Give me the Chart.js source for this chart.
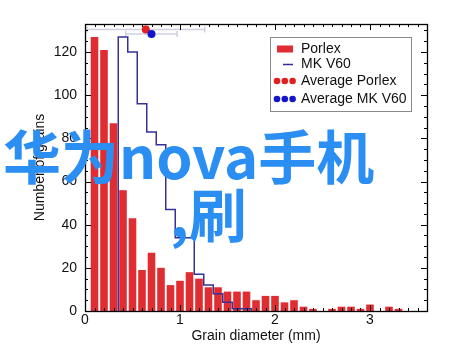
<!DOCTYPE html>
<html>
<head>
<meta charset="utf-8">
<script src="https://cdn.jsdelivr.net/npm/chart.js@4.4.0/dist/chart.umd.min.js"></script>
<style>
    html, body { margin: 0; padding: 0; background: #fff; }
    #wrap { position: relative; width: 460px; height: 354px; }
    .mark {
        position: absolute;
        font-family: "Noto Sans CJK SC", sans-serif;
        font-weight: 700;
        font-size: 58px;
        line-height: 58px;
        color: #2b8ef2;
        white-space: nowrap;
        pointer-events: none;
    }
</style>
</head>
<body>
<div id="wrap">
    <canvas id="grains-chart" width="460" height="354"></canvas>
    <div class="mark" style="left:3px; top:125px;">华为nova手机</div>
    <div class="mark" style="left:170px; top:183px;">,刷</div>
</div>
<script>
const binCenters = [0.1, 0.2, 0.3, 0.4, 0.5, 0.6, 0.7, 0.8, 0.9, 1.0,
    1.1, 1.2, 1.3, 1.4, 1.5, 1.6, 1.7, 1.8, 1.9, 2.0,
    2.1, 2.2, 2.3, 2.4, 2.5, 2.6, 2.7, 2.8, 2.9, 3.0,
    3.1, 3.2, 3.3, 3.4, 3.5];
const porlexCounts = [127, 121, 87, 56, 43, 19, 27, 20, 12, 14,
    18, 15, 11, 11, 9, 9, 9, 5, 7, 7,
    4, 5, 2, 1, 0, 1, 2, 2, 1, 3,
    0, 2, 1, 0, 0];
const v60Counts = [0, 0, 0, 127, 120, 96, 83, 77, 47, 34,
    34, 17, 12, 8, 4, 1, 1, 0, 0, 0,
    0, 0, 0, 0, 0, 0, 0, 0, 0, 0,
    0, 0, 0, 0, 0];

const averageLabels = ['Average Porlex', 'Average MK V60'];
const averageDiameters = [0.64, 0.70];
const averageHeights = [130.4, 128.4];
const averageSpreads = [0.62, 0.27];

const xTickValues = [0, 1, 2, 3];
const yTickValues = [0, 20, 40, 60, 80, 100, 120];
const xRange = [0, 3.6];
const yRange = [0, 133];

const porlexColor = '#e02d32';
const v60Color = '#35309a';
const dotColors = ['#e11f1f', '#1414c8'];
const textFont = '"Liberation Sans", Arial, sans-serif';

// edges of the bins, drawn as a step outline
function stepPoints(counts) {
    const half = (binCenters[1] - binCenters[0]) / 2;
    const first = counts.findIndex(c => c > 0);
    let last = counts.length - 1;
    while (last > 0 && counts[last] === 0) last--;
    const pts = [{ x: binCenters[first] - half, y: 0 }];
    for (let i = first; i <= last; i++) {
        pts.push({ x: binCenters[i] - half, y: counts[i] });
    }
    pts.push({ x: binCenters[last] + half, y: 0 });
    return pts;
}

// inward ticks on all four sides plus the frame
const frameTicks = {
    id: 'frameTicks',
    afterDatasetsDraw(chart) {
        const { ctx, chartArea: a, scales: { x, y } } = chart;
        ctx.save();
        ctx.strokeStyle = '#000';
        ctx.lineWidth = 1;
        ctx.beginPath();
        for (let i = 0; i <= Math.round(xRange[1] * 10); i++) {
            const px = Math.round(x.getPixelForValue(i / 10)) + 0.5;
            const len = i % 10 === 0 ? 6 : 3;
            ctx.moveTo(px, a.bottom); ctx.lineTo(px, a.bottom - len);
            ctx.moveTo(px, a.top); ctx.lineTo(px, a.top + len);
        }
        for (let v = 0; v <= yRange[1]; v += 5) {
            const py = Math.round(y.getPixelForValue(v)) + 0.5;
            const len = v % 20 === 0 ? 6 : 3;
            ctx.moveTo(a.left, py); ctx.lineTo(a.left + len, py);
            ctx.moveTo(a.right, py); ctx.lineTo(a.right - len, py);
        }
        ctx.stroke();
        ctx.lineWidth = 1.3;
        ctx.strokeRect(a.left + 0.5, a.top + 0.5, a.right - a.left, a.bottom - a.top);
        ctx.restore();
    }
};

// horizontal spread of each average, under the dots
const spreadBars = {
    id: 'spreadBars',
    beforeDatasetsDraw(chart) {
        const { ctx, scales: { x, y } } = chart;
        ctx.save();
        ctx.strokeStyle = '#cfd0e2';
        ctx.lineWidth = 1.5;
        averageDiameters.forEach((d, i) => {
            const x0 = x.getPixelForValue(d - averageSpreads[i]);
            const x1 = x.getPixelForValue(d + averageSpreads[i]);
            const py = y.getPixelForValue(averageHeights[i]);
            ctx.beginPath();
            ctx.moveTo(x0, py); ctx.lineTo(x1, py);
            ctx.moveTo(x0, py - 3); ctx.lineTo(x0, py + 3);
            ctx.moveTo(x1, py - 3); ctx.lineTo(x1, py + 3);
            ctx.stroke();
        });
        ctx.restore();
    }
};

const boxLegend = {
    id: 'boxLegend',
    afterDraw(chart) {
        const ctx = chart.ctx;
        const rows = [49, 64.5, 81, 99];
        ctx.save();
        ctx.fillStyle = '#fff';
        ctx.fillRect(270.5, 37.5, 141, 74);
        ctx.strokeStyle = '#8a8a8a';
        ctx.lineWidth = 1;
        ctx.strokeRect(270.5, 37.5, 141, 74);

        ctx.fillStyle = porlexColor;
        ctx.fillRect(277, rows[0] - 3.5, 16, 7);

        ctx.strokeStyle = v60Color;
        ctx.lineWidth = 1.5;
        ctx.beginPath();
        ctx.moveTo(283, rows[1]); ctx.lineTo(293, rows[1]);
        ctx.stroke();

        [2, 3].forEach((r, i) => {
            ctx.fillStyle = dotColors[i];
            [277, 284.8, 292.6].forEach(cx => {
                ctx.beginPath();
                ctx.arc(cx, rows[r], 3.3, 0, Math.PI * 2);
                ctx.fill();
            });
        });

        ctx.fillStyle = '#111';
        ctx.font = '14px ' + textFont;
        ctx.textBaseline = 'middle';
        ['Porlex', 'MK V60', averageLabels[0], averageLabels[1]].forEach((t, i) => {
            ctx.fillText(t, 301, rows[i]);
        });
        ctx.restore();
    }
};

const ctx = document.getElementById('grains-chart').getContext('2d');

new Chart(ctx, {
    type: 'bar',
    data: {
        datasets: [
            {
                label: 'Porlex',
                data: binCenters.map((c, i) => ({ x: c, y: porlexCounts[i] })),
                backgroundColor: porlexColor,
                categoryPercentage: 1,
                barPercentage: 0.8,
                order: 3
            },
            {
                type: 'line',
                label: 'MK V60',
                data: stepPoints(v60Counts),
                borderColor: v60Color,
                borderWidth: 1.5,
                stepped: 'before',
                pointRadius: 0,
                fill: false,
                order: 2
            },
            {
                type: 'line',
                label: averageLabels[0],
                data: [{ x: averageDiameters[0], y: averageHeights[0] }],
                showLine: false,
                pointRadius: 4,
                pointBackgroundColor: dotColors[0],
                pointBorderWidth: 0,
                order: 1
            },
            {
                type: 'line',
                label: averageLabels[1],
                data: [{ x: averageDiameters[1], y: averageHeights[1] }],
                showLine: false,
                pointRadius: 4,
                pointBackgroundColor: dotColors[1],
                pointBorderWidth: 0,
                order: 0
            }
        ]
    },
    options: {
        responsive: false,
        devicePixelRatio: 1,
        animation: false,
        layout: { padding: { top: 24, right: 33, left: 0, bottom: 0 } },
        scales: {
            x: {
                type: 'linear',
                offset: false,
                min: xRange[0],
                max: xRange[1],
                afterFit(scale) { scale.height = 43; },
                afterBuildTicks(scale) { scale.ticks = xTickValues.map(v => ({ value: v })); },
                grid: { display: false, drawTicks: false },
                border: { display: false },
                ticks: { padding: 1, color: '#111', font: { family: textFont, size: 14 } },
                title: {
                    display: true,
                    text: 'Grain diameter (mm)',
                    color: '#111',
                    font: { family: textFont, size: 14 },
                    padding: { top: 0, bottom: 9.6 }
                }
            },
            y: {
                min: yRange[0],
                max: yRange[1],
                afterFit(scale) { scale.width = 85; },
                afterBuildTicks(scale) { scale.ticks = yTickValues.map(v => ({ value: v })); },
                grid: { display: false, drawTicks: false },
                border: { display: false },
                ticks: { padding: 8, color: '#111', font: { family: textFont, size: 14 } },
                title: {
                    display: true,
                    text: 'Number of grains',
                    color: '#111',
                    font: { family: textFont, size: 14 },
                    padding: { top: 31.6, bottom: 0 }
                }
            }
        },
        plugins: {
            legend: { display: false },
            tooltip: { enabled: false }
        }
    },
    plugins: [spreadBars, frameTicks, boxLegend]
});
</script>
</body>
</html>
